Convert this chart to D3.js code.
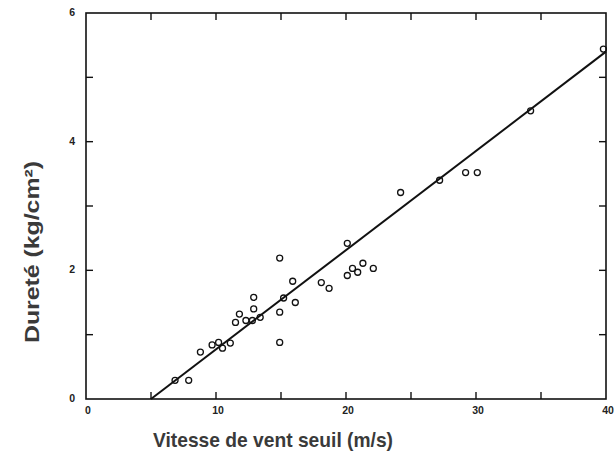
<!DOCTYPE html>
<html><head><meta charset="utf-8">
<script src="https://cdn.jsdelivr.net/npm/d3@7"></script>
<style>body{margin:0;background:#fff}svg{display:block}</style>
</head><body>
<script>
const xVals = [6.85,7.9,8.8,9.7,10.2,10.5,11.1,11.5,11.8,12.3,12.8,12.9,12.9,13.4,14.9,14.9,14.9,15.2,15.9,16.1,18.1,18.7,20.1,20.1,20.5,20.9,21.3,22.1,24.2,27.2,29.2,30.1,34.2,39.8];
const yVals = [0.29,0.29,0.73,0.84,0.88,0.79,0.87,1.19,1.32,1.22,1.22,1.40,1.58,1.27,2.19,1.35,0.88,1.57,1.83,1.50,1.81,1.72,2.42,1.92,2.03,1.97,2.11,2.03,3.21,3.40,3.52,3.52,4.48,5.44];
const fitX = [5, 40];
const fitY = [0, 5.4];
const xTickLabels = [0,10,20,30,40];
const yTickLabels = [0,2,4,6];
const xTitle = "Vitesse de vent seuil (m/s)";
const yTitle = "Dureté (kg/cm²)";

const W = 614, H = 464;
const L = 86, R = 606, T = 13, B = 399;
const svg = d3.select("body").append("svg").attr("width", W).attr("height", H);
const x = d3.scaleLinear().domain([0,40]).range([L,R]);
const y = d3.scaleLinear().domain([0,6]).range([B,T]);
const tl = 7;

// frame
svg.append("rect").attr("x",L).attr("y",T).attr("width",R-L).attr("height",B-T)
  .attr("fill","none").attr("stroke","#111").attr("stroke-width",1.6);

const g = svg.append("g").attr("stroke","#111").attr("stroke-width",1.4);
const xt = d3.range(0,41,5), yt = d3.range(0,7,1);
xt.slice(1,-1).forEach(v=>{
  g.append("line").attr("x1",x(v)).attr("x2",x(v)).attr("y1",B).attr("y2",B-tl);
  g.append("line").attr("x1",x(v)).attr("x2",x(v)).attr("y1",T).attr("y2",T+tl);
});
yt.slice(1,-1).forEach(v=>{
  g.append("line").attr("x1",L).attr("x2",L+tl).attr("y1",y(v)).attr("y2",y(v));
  g.append("line").attr("x1",R).attr("x2",R-tl).attr("y1",y(v)).attr("y2",y(v));
});

// tick labels
const lab = svg.append("g").attr("font-family","Liberation Sans, Arial, sans-serif")
  .attr("font-weight","bold").attr("font-size",10.5).attr("fill","#222");
xTickLabels.forEach(v=>{
  lab.append("text").attr("x",x(v)+2).attr("y",B+15).attr("text-anchor","middle").text(v);
});
yTickLabels.forEach(v=>{
  lab.append("text").attr("x",L-11).attr("y",y(v)+3).attr("text-anchor","end").text(v);
});

// fit line
svg.append("line").attr("x1",x(fitX[0])).attr("y1",y(fitY[0])).attr("x2",x(fitX[1])).attr("y2",y(fitY[1]))
  .attr("stroke","#111").attr("stroke-width",2);

// points
svg.append("g").selectAll("circle").data(xVals.map((v,i)=>[v,yVals[i]])).join("circle")
  .attr("cx",d=>x(d[0])).attr("cy",d=>y(d[1])).attr("r",3)
  .attr("fill","none").attr("stroke","#111").attr("stroke-width",1.3);

// titles
svg.append("text").attr("x",273).attr("y",447).attr("text-anchor","middle")
  .attr("font-family","Liberation Sans, Arial, sans-serif").attr("font-weight","bold")
  .attr("font-size",21).attr("fill","#3a3a3a")
  .attr("textLength",240).attr("lengthAdjust","spacingAndGlyphs").text(xTitle);
svg.append("text").attr("transform","translate(39,252) rotate(-90)").attr("text-anchor","middle")
  .attr("font-family","Liberation Sans, Arial, sans-serif").attr("font-weight","bold")
  .attr("font-size",21).attr("fill","#3a3a3a")
  .attr("textLength",182).attr("lengthAdjust","spacingAndGlyphs").text(yTitle);
</script>
</body></html>
